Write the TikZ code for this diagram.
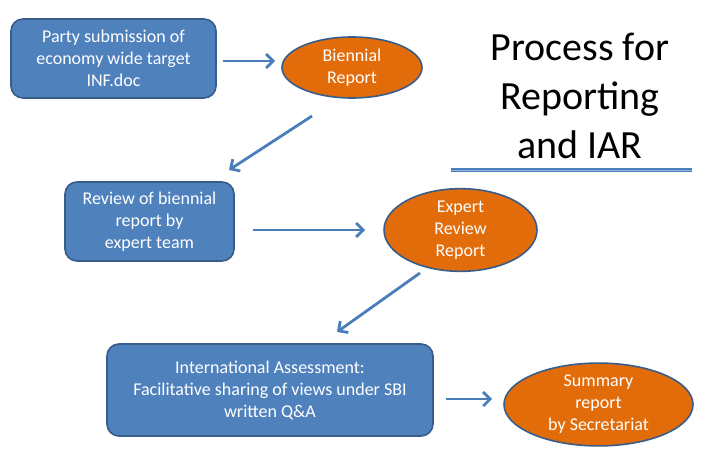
\documentclass[tikz,border=0pt]{standalone}
\usepackage{fontspec}
\setmainfont{Carlito}
\usetikzlibrary{arrows.meta,shapes.geometric}
\definecolor{boxfill}{HTML}{4F81BD}
\definecolor{boxline}{HTML}{385D8A}
\definecolor{ovalfill}{HTML}{E36C0A}
\definecolor{arrowcol}{HTML}{4A7EBB}
\definecolor{rulelight}{HTML}{95B3D7}
\tikzset{
  procbox/.style={draw=boxline, line width=1.6pt, fill=boxfill, rounded corners=12pt,
    text=white, align=center, font=\fontsize{18}{22}\selectfont, inner sep=0pt},
  oval/.style={ellipse, draw=boxline, line width=1.6pt, fill=ovalfill,
    text=white, align=center, font=\fontsize{18}{22}\selectfont, inner sep=0pt},
  flow/.style={draw=arrowcol, line width=2.8pt, -{Straight Barb[length=7pt,width=14pt,line width=2.8pt]}},
}
\begin{document}
\begin{tikzpicture}[x=1pt,y=-1pt]
\useasboundingbox (0,0) rectangle (719,473);
\node[procbox, minimum width=205pt, minimum height=79pt] (b1) at (113.5,58.5)
  {Party submission of\\economy wide target\\INF.doc};
\node[oval, minimum width=140pt, minimum height=61pt] (e1) at (352,67.5)
  {Biennial\\Report};
\node[procbox, minimum width=169pt, minimum height=79pt] (b2) at (149.5,221.5)
  {Review of biennial\\report by\\expert team};
\node[oval, minimum width=153pt, minimum height=70pt] (e2) at (460.5,230)
  {Expert\\Review\\Report};
\node[procbox, minimum width=326pt, minimum height=92pt] (b3) at (270,390)
  {International Assessment:\\Facilitative sharing of views under SBI\\written Q\&A};
\node[oval, minimum width=189pt, minimum height=69pt] (e3) at (598.5,404.5)
  {Summary\\report\\by Secretariat};
\node[font=\fontsize{40}{49}\selectfont, align=center, inner sep=0pt] (title) at (580,96)
  {Process for\\Reporting\\and IAR};
\coordinate (r1) at (451,170);
\coordinate (r2) at (692,170);
\draw[draw=arrowcol, line width=4pt] (r1) -- (r2);
\draw[draw=rulelight, line width=1pt] (r1) -- (r2);
\draw[flow] ([xshift=6pt]b1.east |- 0,61) -- ([xshift=-6pt]e1.west |- 0,61);
\coordinate (d1s) at (312,116);
\coordinate (d1e) at (229,170);
\draw[flow] (d1s) -- (d1e);
\draw[flow] ([xshift=18pt]b2.east |- 0,230) -- ([xshift=-18pt]e2.west |- 0,230);
\coordinate (d2s) at (420,273);
\coordinate (d2e) at (337,332);
\draw[flow] (d2s) -- (d2e);
\draw[flow] ([xshift=12pt]b3.east |- 0,399) -- ([xshift=-11pt]e3.west |- 0,399);
\end{tikzpicture}
\end{document}
